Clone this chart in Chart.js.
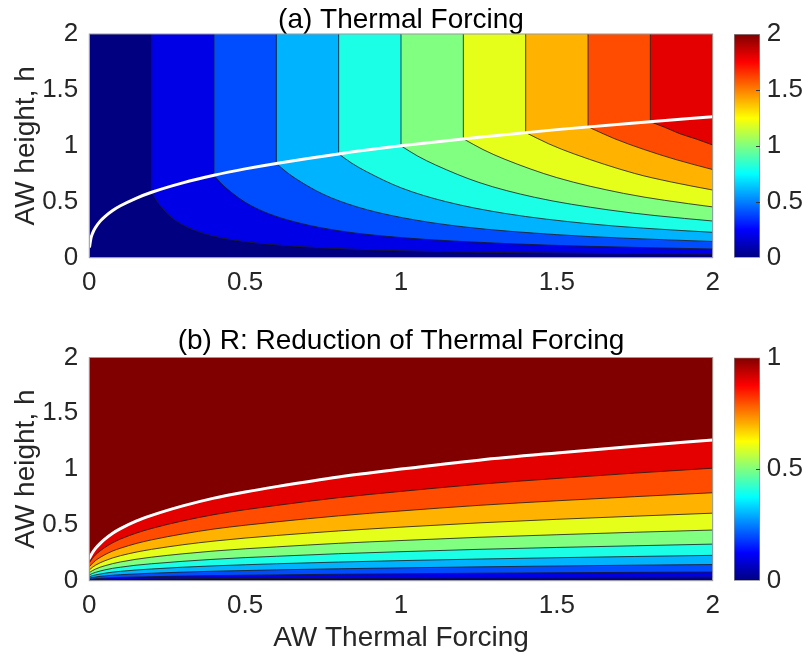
<!DOCTYPE html>
<html><head><meta charset="utf-8">
<script src="https://cdn.jsdelivr.net/npm/chart.js@4.4.1/dist/chart.umd.min.js"></script>
<style>
html,body{margin:0;padding:0;background:#fff;}
#wrap{position:relative;width:803px;height:658px;overflow:hidden;background:#fff;}
.box{position:absolute;}
canvas{display:block;}
</style></head><body>
<div id="wrap">
 <div class="box" style="left:0;top:0;"><canvas id="ca" width="803" height="300"></canvas></div>
 <div class="box" style="left:0;top:300px;"><canvas id="cb" width="803" height="358"></canvas></div>
 <div class="box" style="left:700px;top:0;"><canvas id="cba" width="103" height="300"></canvas></div>
 <div class="box" style="left:700px;top:300px;"><canvas id="cbb" width="103" height="358"></canvas></div>
</div>
<script>
// ---------------- data ----------------
const xTicks = [0, 0.5, 1, 1.5, 2];
const hTicks = [0, 0.5, 1, 1.5, 2];
const tfBarTicks = [0, 0.5, 1, 1.5, 2];
const rBarTicks = [0, 0.5, 1];

// panel (a): contour levels of thermal forcing
const tfLevels = [0, 0.2, 0.4, 0.6, 0.8, 1.0, 1.2, 1.4, 1.6, 1.8];
// white curve (critical AW height) in panel (a)
const critXa = [0.001, 0.005, 0.01, 0.02, 0.035, 0.05, 0.075, 0.1, 0.15, 0.2, 0.3, 0.4, 0.5, 0.6, 0.8, 1.0, 1.25, 1.5, 1.75, 2.0];
const critHa = [0.10, 0.17, 0.215, 0.27, 0.327, 0.368, 0.422, 0.464, 0.531, 0.585, 0.669, 0.737, 0.794, 0.843, 0.928, 1.0, 1.077, 1.145, 1.205, 1.26];
// contour lines of panel (a), below the white curve (x, h)
const tf02X = [0.2, 0.2105, 0.2222, 0.25, 0.2857, 0.3333, 0.4, 0.5, 0.6667, 1.0, 1.3333, 2.0];
const tf02H = [0.585, 0.533, 0.485, 0.394, 0.316, 0.250, 0.192, 0.143, 0.101, 0.062, 0.046, 0.0315];
const tf04X = [0.4, 0.421, 0.444, 0.5, 0.5714, 0.6667, 0.8, 1.0, 1.3333, 1.6, 2.0];
const tf04H = [0.737, 0.671, 0.611, 0.496, 0.398, 0.315, 0.241, 0.180, 0.127, 0.102, 0.078];
const tf06X = [0.6, 0.6316, 0.6667, 0.75, 0.857, 1.0, 1.2, 1.5, 1.714, 2.0];
const tf06H = [0.843, 0.768, 0.699, 0.568, 0.456, 0.360, 0.276, 0.206, 0.175, 0.145];
const tf08X = [0.8, 0.842, 0.889, 1.0, 1.143, 1.333, 1.6, 1.778, 2.0];
const tf08H = [0.928, 0.845, 0.770, 0.625, 0.502, 0.396, 0.304, 0.264, 0.227];
const tf10X = [1.0, 1.0526, 1.111, 1.25, 1.4286, 1.6667, 1.818, 2.0];
const tf10H = [1.0, 0.910, 0.829, 0.673, 0.540, 0.427, 0.376, 0.328];
const tf12X = [1.2, 1.263, 1.333, 1.5, 1.714, 1.846, 2.0];
const tf12H = [1.063, 0.967, 0.880, 0.716, 0.575, 0.513, 0.454];
const tf14X = [1.4, 1.474, 1.556, 1.75, 1.867, 2.0];
const tf14H = [1.119, 1.018, 0.927, 0.753, 0.677, 0.605];
const tf16X = [1.6, 1.684, 1.778, 1.882, 2.0];
const tf16H = [1.170, 1.065, 0.969, 0.877, 0.788];
const tf18X = [1.8, 1.846, 1.895, 1.946, 2.0];
const tf18H = [1.216, 1.166, 1.108, 1.062, 1.008];

// panel (b): contour levels of R
const rLevels = [0, 0.1, 0.2, 0.3, 0.4, 0.5, 0.6, 0.7, 0.8, 0.9, 1.0];
const rX   = [0, 0.01, 0.02, 0.035, 0.05, 0.075, 0.1, 0.15, 0.2, 0.3, 0.4, 0.5, 0.6, 0.8, 1.0, 1.25, 1.5, 1.75, 2.0];
const rH01 = [0.005, 0.006, 0.007, 0.008, 0.009, 0.011, 0.012, 0.013, 0.015, 0.017, 0.019, 0.020, 0.021, 0.023, 0.025, 0.027, 0.029, 0.030, 0.032];
const rH02 = [0.012, 0.016, 0.018, 0.021, 0.023, 0.026, 0.029, 0.033, 0.036, 0.042, 0.046, 0.049, 0.052, 0.058, 0.062, 0.067, 0.071, 0.075, 0.078];
const rH03 = [0.023, 0.029, 0.033, 0.039, 0.043, 0.049, 0.054, 0.061, 0.067, 0.077, 0.085, 0.091, 0.097, 0.107, 0.115, 0.124, 0.132, 0.139, 0.145];
const rH04 = [0.036, 0.045, 0.052, 0.060, 0.067, 0.077, 0.084, 0.096, 0.105, 0.121, 0.133, 0.143, 0.152, 0.167, 0.180, 0.194, 0.206, 0.217, 0.227];
const rH05 = [0.052, 0.065, 0.075, 0.087, 0.097, 0.111, 0.121, 0.139, 0.152, 0.174, 0.192, 0.207, 0.219, 0.242, 0.260, 0.281, 0.298, 0.313, 0.328];
const rH06 = [0.072, 0.090, 0.104, 0.121, 0.134, 0.153, 0.168, 0.192, 0.211, 0.241, 0.266, 0.286, 0.303, 0.335, 0.360, 0.389, 0.412, 0.434, 0.454];
const rH07 = [0.096, 0.120, 0.139, 0.161, 0.179, 0.204, 0.224, 0.256, 0.281, 0.322, 0.355, 0.382, 0.405, 0.446, 0.480, 0.518, 0.550, 0.578, 0.605];
const rH08 = [0.125, 0.156, 0.181, 0.209, 0.233, 0.266, 0.291, 0.333, 0.366, 0.419, 0.463, 0.497, 0.527, 0.581, 0.625, 0.675, 0.716, 0.753, 0.788];
const rH09 = [0.160, 0.200, 0.232, 0.268, 0.298, 0.340, 0.373, 0.426, 0.468, 0.536, 0.592, 0.636, 0.674, 0.744, 0.800, 0.864, 0.916, 0.964, 1.008];
const rH10 = [0.200, 0.250, 0.290, 0.335, 0.372, 0.425, 0.466, 0.533, 0.585, 0.670, 0.740, 0.795, 0.843, 0.930, 1.000, 1.080, 1.145, 1.205, 1.260];

// ---------------- styling helpers ----------------
const FONT = "'Liberation Sans', Arial, Helvetica, sans-serif";
const TXT = '#262626';
const TICK_SIZE = 26, LABEL_SIZE = 28;
const fmt = v => String(v);

function jet(v) {
  const c = t => Math.max(0, Math.min(1, t));
  const r = c(1.5 - Math.abs(4 * v - 3)), g = c(1.5 - Math.abs(4 * v - 2)), b = c(1.5 - Math.abs(4 * v - 1));
  return 'rgb(' + Math.round(r * 255) + ',' + Math.round(g * 255) + ',' + Math.round(b * 255) + ')';
}
const pts = (xs, hs) => xs.map((x, i) => ({ x: x, y: hs[i] }));

function bandDataset(data, color, k, withLine) {
  return {
    data: data, fill: 'end', backgroundColor: color,
    borderColor: withLine ? '#1a1a1a' : 'rgba(0,0,0,0)', borderWidth: withLine ? 0.8 : 0,
    pointRadius: 0, pointHoverRadius: 0, cubicInterpolationMode: 'monotone', order: -k
  };
}
function lineDataset(data, color, width, order, monotone) {
  return {
    data: data, fill: false, borderColor: color, borderWidth: width, backgroundColor: color,
    pointRadius: 0, pointHoverRadius: 0, cubicInterpolationMode: monotone ? 'monotone' : 'default',
    tension: 0, order: order, borderCapStyle: 'round', clip: 0
  };
}

const framePlugin = {
  id: 'frame',
  afterDatasetsDraw(chart) {
    const a = chart.chartArea, c = chart.ctx;
    c.save(); c.strokeStyle = '#9a9a9a'; c.lineWidth = 1;
    c.strokeRect(a.left, a.top, a.right - a.left, a.bottom - a.top);
    c.restore();
  }
};
// small inward tick marks on the colorbar, placed by the colorbar's own y scale
const cbTickPlugin = {
  id: 'cbTicks',
  afterDatasetsDraw(chart) {
    const a = chart.chartArea, c = chart.ctx, s = chart.scales.y;
    c.save(); c.strokeStyle = '#3a3a3a'; c.lineWidth = 1;
    s.ticks.forEach(t => {
      if (t.value <= s.min || t.value >= s.max) return;
      const y = Math.round(s.getPixelForValue(t.value)) + 0.5;
      c.beginPath(); c.moveTo(a.right - 4, y); c.lineTo(a.right, y); c.stroke();
    });
    c.restore();
  }
};

function mainOptions(titleText, titlePad, xHeight, xTitle) {
  const x = {
    type: 'linear', min: xTicks[0], max: xTicks[xTicks.length - 1],
    afterBuildTicks: s => { s.ticks = xTicks.map(v => ({ value: v })); },
    ticks: { font: { family: FONT, size: TICK_SIZE }, color: TXT, padding: 10, maxRotation: 0, autoSkip: false, callback: fmt },
    grid: { display: false, drawTicks: false }, border: { display: false },
    afterFit: s => { s.height = xHeight; }
  };
  if (xTitle) x.title = { display: true, text: xTitle, color: TXT, font: { family: FONT, size: LABEL_SIZE, lineHeight: 1 }, padding: { top: 0, bottom: 5.4 } };
  return {
    responsive: false, animation: false, events: [],
    layout: { padding: { left: 0, right: 90.3, top: 0, bottom: 0 } },
    plugins: {
      legend: { display: false }, tooltip: { enabled: false },
      title: { display: true, text: titleText, fullSize: false, color: '#000',
        font: { family: FONT, size: LABEL_SIZE, weight: 'normal', lineHeight: 0.957 }, padding: titlePad }
    },
    scales: {
      x: x,
      y: {
        type: 'linear', min: hTicks[0], max: hTicks[hTicks.length - 1],
        afterBuildTicks: s => { s.ticks = hTicks.map(v => ({ value: v })); },
        ticks: { font: { family: FONT, size: TICK_SIZE }, color: TXT, padding: 11, autoSkip: false, callback: fmt },
        grid: { display: false, drawTicks: false }, border: { display: false },
        title: { display: true, text: 'AW height, h', color: TXT, font: { family: FONT, size: LABEL_SIZE, lineHeight: 1 }, padding: { top: 12.5, bottom: 0 } },
        afterFit: s => { s.width = 89.3; }
      }
    }
  };
}

// ---------------- panel (a) ----------------
const tfCurves = [null, [tf02X, tf02H], [tf04X, tf04H], [tf06X, tf06H], [tf08X, tf08H], [tf10X, tf10H],
  [tf12X, tf12H], [tf14X, tf14H], [tf16X, tf16H], [tf18X, tf18H]];
const hMax = hTicks[hTicks.length - 1], hMin = hTicks[0];
const dsA = [];
tfLevels.forEach((lev, k) => {
  const color = jet(lev / tfBarTicks[tfBarTicks.length - 1]);
  if (k === 0) {
    dsA.push(bandDataset(pts([xTicks[0], xTicks[xTicks.length - 1]], [hMin, hMin]), color, k, false));
  } else {
    const [xs, hs] = tfCurves[k];
    dsA.push(bandDataset(pts(xs, hs), color, k, true));
    // vertical part of the contour above the white curve
    dsA.push(lineDataset(pts([xs[0], xs[0]], [hs[0], hMax]), '#1a1a1a', 0.8, -50, false));
  }
});
dsA.push(lineDataset(pts(critXa, critHa), '#ffffff', 3, -100, true));

new Chart(document.getElementById('ca'), {
  type: 'line', data: { datasets: dsA },
  options: mainOptions('(a) Thermal Forcing', { top: 7.2, bottom: 0 }, 42.3, null),
  plugins: [framePlugin]
});

// ---------------- panel (b) ----------------
const rCurves = [null, rH01, rH02, rH03, rH04, rH05, rH06, rH07, rH08, rH09, rH10];
const dsB = [];
rLevels.forEach((lev, k) => {
  const color = jet(lev / rBarTicks[rBarTicks.length - 1]);
  if (k === 0) dsB.push(bandDataset(pts([xTicks[0], xTicks[xTicks.length - 1]], [hMin, hMin]), color, k, false));
  else dsB.push(bandDataset(pts(rX, rCurves[k]), color, k, k < rLevels.length - 1));
});
dsB.push(lineDataset(pts(rX, rH10), '#ffffff', 3, -100, true));

new Chart(document.getElementById('cb'), {
  type: 'line', data: { datasets: dsB },
  options: mainOptions('(b) R: Reduction of Thermal Forcing', { top: 28.2, bottom: 2.5 }, 77.3, 'AW Thermal Forcing'),
  plugins: [framePlugin]
});

// ---------------- colorbars ----------------
function jetGradient(ctx) {
  const chart = ctx.chart, a = chart.chartArea;
  if (!a) return '#000080';
  const g = chart.ctx.createLinearGradient(0, a.bottom, 0, a.top);
  const stops = [0, 0.125, 0.375, 0.625, 0.875, 1];
  stops.forEach(s => g.addColorStop(s, jet(s)));
  return g;
}
function colorbar(id, ticks, padTop, padBottom) {
  const lo = ticks[0], hi = ticks[ticks.length - 1];
  new Chart(document.getElementById(id), {
    type: 'bar',
    data: { labels: [''], datasets: [{ data: [[lo, hi]], backgroundColor: jetGradient, borderColor: '#8c8c8c',
      borderWidth: 1, borderSkipped: false, barPercentage: 1, categoryPercentage: 1 }] },
    options: {
      responsive: false, animation: false, events: [],
      layout: { padding: { left: 34, right: 0, top: padTop, bottom: padBottom } },
      plugins: { legend: { display: false }, tooltip: { enabled: false } },
      scales: {
        x: { display: false },
        y: {
          position: 'right', min: lo, max: hi,
          afterBuildTicks: s => { s.ticks = ticks.map(v => ({ value: v })); },
          ticks: { font: { family: FONT, size: TICK_SIZE }, color: TXT, padding: 6.7, autoSkip: false, callback: fmt },
          grid: { display: false, drawTicks: false }, border: { display: false },
          afterFit: s => { s.width = 43; }
        }
      }
    },
    plugins: [cbTickPlugin]
  });
}
colorbar('cba', tfBarTicks, 34, 42.3);
colorbar('cbb', rBarTicks, 57.5, 77.3);
</script>
</body></html>
